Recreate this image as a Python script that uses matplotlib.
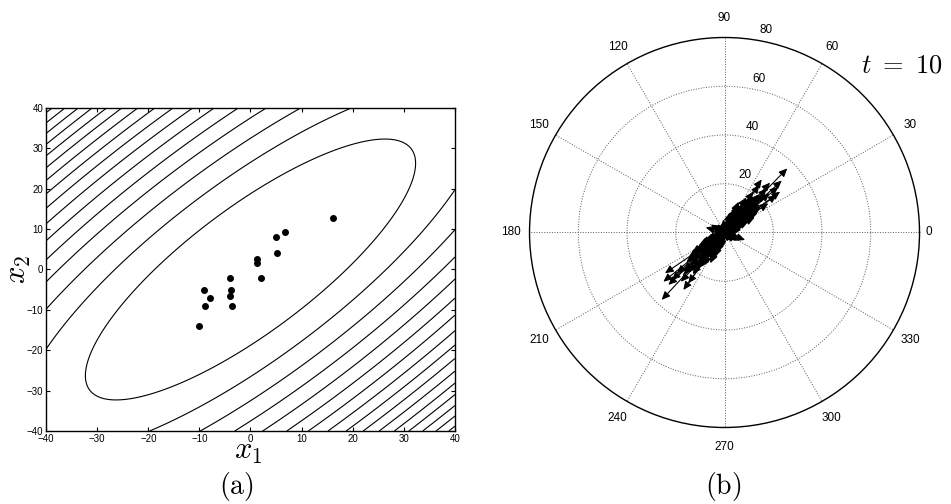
import numpy as np
import matplotlib
matplotlib.use("Agg")
import matplotlib.pyplot as plt

plt.rcParams["font.family"] = ["Liberation Sans", "DejaVu Sans"]
plt.rcParams["mathtext.fontset"] = "cm"

# (a) data: sample points and gaussian contour parameters
pts_x1 = [16.1, 6.7, 4.9, 5.2, 1.2, 1.2, 2.05, -4.0, -3.8, -3.95, -3.6, -9.1, -7.9, -8.9, -10.1]
pts_x2 = [12.7, 9.4, 8.0, 4.1, 2.6, 1.6, -2.1, -2.2, -5.2, -6.6, -9.0, -5.1, -7.0, -9.1, -14.0]
mu = [0.0, 0.0]
sigma = 32.3
rho = 0.814
levels = [1, 2, 3, 4, 5, 6, 7, 8, 9, 10, 11, 12, 13, 14, 15, 16]
ticks_a = [-40, -30, -20, -10, 0, 10, 20, 30, 40]

# (b) data: compass arrows (angle in degrees, length)
ur_ang = [45.6, 42.2, 36.3, 35.7, 47.6, 55.0, 53.8, 40.4, 33.7, 54.8, 44.0, 50.5, 38.5, 41.0, 46.5,
          52.0, 48.0, 43.0, 39.0, 57.0, 49.0, 44.5, 36.0, 47.0, 51.0, 42.0, 45.0, 40.0, 58.0, 48.5,
          62.0, 34.0, 46.0, 43.5, 50.0, 37.5, 44.0, 53.0, 41.5, 47.5, 65.0, 30.0, 56.0, 39.5, 45.5]
ur_len = [36.8, 31.7, 28.3, 26.4, 27.7, 26.6, 24.2, 29.0, 21.6, 20.5, 23.0, 19.0, 18.5, 24.5, 16.0,
          15.5, 21.0, 13.0, 17.0, 14.0, 12.0, 10.5, 11.0, 9.0, 8.0, 14.5, 6.5, 7.5, 11.5, 18.0,
          8.5, 12.5, 25.0, 20.0, 17.5, 15.0, 5.0, 6.0, 4.5, 10.0, 7.0, 9.5, 13.5, 16.5, 19.5]
ll_ang = [227.0, 214.4, 218.8, 222.0, 234.4, 234.5, 223.0, 220.5, 228.0, 231.0, 225.5, 219.0,
          236.0, 226.0, 232.5, 221.5, 229.5, 224.0, 238.0, 216.0, 230.0, 227.5, 241.0, 212.0,
          225.0, 233.0, 220.0, 228.5, 245.0, 210.0, 226.5, 231.5, 223.5, 236.5, 218.0]
ll_len = [37.8, 29.6, 32.2, 29.1, 29.0, 25.6, 31.5, 25.8, 22.0, 20.0, 24.0, 18.5,
          17.0, 15.0, 21.5, 13.5, 12.0, 19.5, 10.5, 14.0, 16.5, 9.0, 8.0, 11.5,
          6.0, 7.5, 10.0, 27.0, 6.5, 8.5, 5.0, 14.5, 23.0, 12.5, 17.5]
core_ang = [60, 28, 70, 25, 65, 32, 58, 20, 68, 52, 38, 63, 27, 74, 18, 55, 35, 66, 24,
            240, 208, 250, 205, 245, 212, 255, 200, 215, 232, 218, 243, 207, 198, 252, 236, 214, 248, 203]
core_len = [12, 10, 9, 11, 14, 16, 17, 8, 7, 19, 17, 13, 14, 6, 7, 15, 18, 11, 9,
            12, 10, 9, 11, 14, 16, 7, 8, 18, 18, 20, 13, 12, 6, 8, 16, 15, 11, 9]
fz_ang = [150, 165, 175, 130, 110, 95, 340, 325, 310, 290, 20, 10, 200, 260, 75, 190, 350, 120, 155, 335]
fz_len = [6.5, 8.0, 5.0, 4.5, 4.0, 5.5, 9.0, 6.0, 5.0, 4.0, 6.0, 7.0, 5.5, 4.5, 8.5, 4.0, 5.0, 3.5, 5.5, 7.5]

theta_ticks = [0, 30, 60, 90, 120, 150, 180, 210, 240, 270, 300, 330]
r_ticks = [20, 40, 60, 80]

fig = plt.figure(figsize=(9.51, 5.04), dpi=100)

# ---------------- (a) ----------------
ax = fig.add_axes([0.0484, 0.1448, 0.43, 0.641])
g = np.linspace(-40, 40, 401)
X, Y = np.meshgrid(g, g)
cov = np.array([[sigma**2, rho * sigma**2], [rho * sigma**2, sigma**2]])
P = np.linalg.inv(cov)
dx, dy = X - mu[0], Y - mu[1]
Q = P[0, 0] * dx**2 + 2 * P[0, 1] * dx * dy + P[1, 1] * dy**2
ax.contour(X, Y, Q, levels=levels, colors="k", linewidths=0.8)
ax.plot(pts_x1, pts_x2, "o", color="k", ms=4)
ax.set_xlim(-40, 40)
ax.set_ylim(-40, 40)
ax.set_xticks(ticks_a)
ax.set_yticks(ticks_a)
ax.tick_params(direction="in", top=True, right=True, length=3, width=0.8, labelsize=7, pad=2)
for s in ax.spines.values():
    s.set_linewidth(1.0)
ax.text(0.494, -0.015, r"$x_1$", transform=ax.transAxes, ha="center", va="top", fontsize=22)
ax.text(-0.068, 0.5, r"$x_2$", transform=ax.transAxes, ha="center", va="center", fontsize=22, rotation=90)

# ---------------- (b) ----------------
axp = fig.add_axes([0.5568, 0.1518, 0.4101, 0.7738], projection="polar")
axp.set_ylim(0, 80)
axp.set_thetagrids(theta_ticks, labels=[""] * len(theta_ticks))
axp.set_rgrids(r_ticks[:-1], labels=[""] * 3)
axp.grid(True, linestyle=":", color="0.35", linewidth=0.7)
axp.spines["polar"].set_linewidth(1.0)

for ang_list, len_list, w in [(ur_ang, ur_len, 0.8), (ll_ang, ll_len, 0.8),
                              (core_ang, core_len, 1.1), (fz_ang, fz_len, 0.9)]:
    for a, l in zip(ang_list, len_list):
        axp.annotate("", xy=(np.deg2rad(a), l), xytext=(0, 0),
                     arrowprops=dict(arrowstyle="-|>,head_length=0.55,head_width=0.25",
                                     color="k", lw=w, shrinkA=0, shrinkB=0,
                                     mutation_scale=9))

for t in theta_ticks:
    rr = 83.7 if t == 0 else 87.8
    axp.text(np.deg2rad(t), rr, str(t), ha="center", va="center", fontsize=8.5, clip_on=False)
for r in r_ticks:
    axp.annotate(str(r), xy=(np.deg2rad(82), r), xytext=(14, 9), textcoords="offset pixels",
                 ha="center", va="center", fontsize=8.5, annotation_clip=False)

fig.text(0.949, 0.871, r"$t\ =\ 10$", ha="center", va="center", fontsize=19)
fig.text(0.249, 0.034, r"$\mathrm{(a)}$", ha="center", va="center", fontsize=20)
fig.text(0.7606, 0.034, r"$\mathrm{(b)}$", ha="center", va="center", fontsize=20)

fig.savefig("out.png", dpi=100)
